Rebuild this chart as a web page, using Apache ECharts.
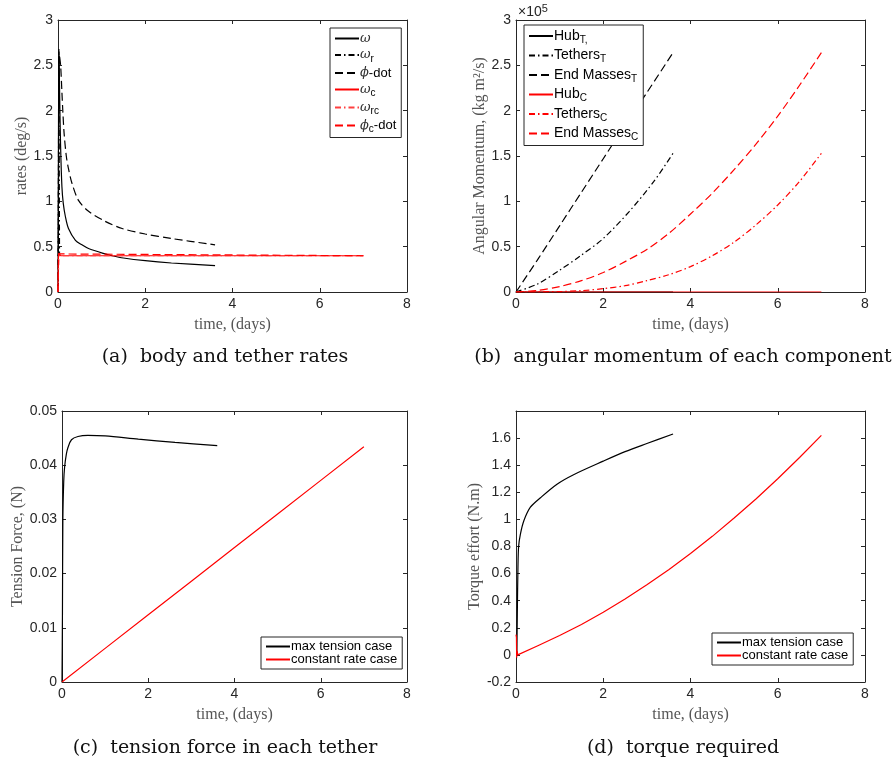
<!DOCTYPE html>
<html>
<head>
<meta charset="utf-8">
<script src="https://cdn.jsdelivr.net/npm/echarts@6/dist/echarts.min.js"></script>
<style>
  html, body { margin: 0; background: #fff; }
  #chart { width: 896px; height: 764px; }
</style>
</head>
<body>
<div id="chart"></div>
<script>
// (a) body and tether rates, deg/s vs days
const omega = [[0, 0], [0.01, 1.6], [0.022, 2.65], [0.04, 2.1], [0.06, 1.6], [0.09, 1.16], [0.12, 0.98], [0.17, 0.83], [0.24, 0.7], [0.4, 0.57], [0.55, 0.52], [0.7, 0.48], [1.08, 0.42], [1.24, 0.4], [1.5, 0.375], [2, 0.345], [2.6, 0.32], [3.6, 0.29]];
const omegaR = [[0, 0], [0.02, 2.68], [0.035, 0.4]];
const phiDot = [[0, 0], [0.015, 1.4], [0.03, 2.62], [0.06, 2.5], [0.09, 2.2], [0.11, 2.0], [0.14, 1.75], [0.19, 1.5], [0.24, 1.36], [0.32, 1.2], [0.47, 1.01], [0.7, 0.89], [1.08, 0.78], [1.47, 0.7], [2, 0.64], [2.6, 0.59], [3.6, 0.52]];
const omegaC = [[0, 0], [0.01, 0.38], [0.02, 0.43], [0.04, 0.41], [0.06, 0.4], [7, 0.4]];
const omegaRC = [[0, 0], [0.02, 0.4], [7, 0.4]];
const phiCDot = [[0, 0], [0.015, 0.42], [0.03, 0.4], [7, 0.4]];

// (b) angular momentum, x1e5 kg m^2/s
const hubT = [[0, 0], [3.6, 0]];
const tethersT = [[0, 0], [0.5, 0.09], [1, 0.24], [1.48, 0.4], [2, 0.59], [2.6, 0.89], [3.16, 1.22], [3.6, 1.53]];
const endMassesT = [[0, 0], [0.5, 0.36], [1, 0.73], [1.5, 1.1], [2, 1.47], [2.5, 1.84], [3, 2.2], [3.6, 2.64]];
const hubC = [[0, 0], [7, 0]];
const tethersC = [[0, 0], [1, 0.005], [1.5, 0.015], [2, 0.037], [2.5, 0.07], [3, 0.125], [3.5, 0.19], [4, 0.28], [4.5, 0.4], [5, 0.55], [5.5, 0.74], [6, 0.96], [6.5, 1.22], [7, 1.53]];
const endMassesC = [[0, 0], [0.5, 0.018], [1, 0.06], [1.5, 0.125], [2, 0.215], [2.5, 0.335], [3, 0.47], [3.5, 0.645], [4, 0.86], [4.5, 1.09], [5, 1.35], [5.5, 1.63], [6, 1.94], [6.5, 2.28], [7, 2.64]];

// (c) tension force, N
const tensionMax = [[0, 0], [0.01, 0.012], [0.02, 0.03], [0.04, 0.037], [0.06, 0.0396], [0.1, 0.042], [0.14, 0.0433], [0.22, 0.0447], [0.37, 0.0453], [0.6, 0.0455], [1, 0.0454], [1.77, 0.0448], [2.62, 0.0442], [3.6, 0.0436]];
const tensionConst = [[0, 0], [1, 0.0062], [2, 0.0124], [3, 0.0186], [4, 0.0248], [5, 0.031], [6, 0.0372], [7, 0.0434]];

// (d) torque effort, N.m
const torqueMax = [[0.02, 0], [0.03, 0.3], [0.045, 0.65], [0.06, 0.8], [0.1, 0.89], [0.18, 0.99], [0.33, 1.09], [0.56, 1.16], [0.94, 1.26], [1.32, 1.33], [2, 1.43], [2.5, 1.5], [3, 1.56], [3.6, 1.63]];
const torqueConst = [[0, 0.15], [0.01, 0.13], [0.015, -0.02], [0.025, 0.03], [0.04, 0], [0.08, 0.01], [0.5, 0.068], [1, 0.143], [1.5, 0.225], [2, 0.315], [2.5, 0.412], [3, 0.517], [3.5, 0.629], [4, 0.749], [4.5, 0.875], [5, 1.01], [5.5, 1.151], [6, 1.3], [6.5, 1.457], [7, 1.62]];

const captions = ['(a)  body and tether rates', '(b)  angular momentum of each component', '(c)  tension force in each tether', '(d)  torque required'];
const yNames = ['rates (deg/s)', 'Angular Momentum, (kg m²/s)', 'Tension Force, (N)', 'Torque effort (N.m)'];
const yRanges = [[0, 3, 0.5], [0, 3, 0.5], [0, 0.05, 0.01], [-0.2, 1.8, 0.2]];

const AX = '#262626';
const DASH = [8, 4];
const DASHDOT = [6, 3, 1.5, 3];

const grids = [
  { left: 58, top: 20, width: 349, height: 272 },
  { left: 516, top: 20, width: 349, height: 272 },
  { left: 62, top: 411, width: 345, height: 271 },
  { left: 516, top: 411, width: 349, height: 271 }
];
const yNameGaps = [26, 27, 36, 33];

const xAxes = [];
const yAxes = [];
grids.forEach((g, i) => {
  const tick = { inside: true, length: 4, lineStyle: { color: AX } };
  const line = { onZero: false, lineStyle: { color: AX, width: 1 } };
  xAxes.push({
    gridIndex: i, type: 'value', min: 0, max: 8, interval: 2,
    axisLine: line, axisTick: tick, splitLine: { show: false },
    axisLabel: { color: AX, fontSize: 14, fontFamily: 'Liberation Sans', margin: 5 },
    name: 'time, (days)', nameLocation: 'middle', nameGap: 25,
    nameTextStyle: { fontFamily: 'Liberation Serif', fontSize: 16, color: '#555' }
  });
  xAxes.push({
    gridIndex: i, type: 'value', min: 0, max: 8, interval: 2, position: 'top',
    axisLine: line, axisTick: tick, splitLine: { show: false }, axisLabel: { show: false }
  });
  const [ymin, ymax, yint] = yRanges[i];
  yAxes.push({
    gridIndex: i, type: 'value', min: ymin, max: ymax, interval: yint,
    axisLine: line, axisTick: tick, splitLine: { show: false },
    axisLabel: { color: AX, fontSize: 14, fontFamily: 'Liberation Sans', margin: 5, showMaxLabel: i !== 3 },
    name: yNames[i], nameLocation: 'middle', nameGap: yNameGaps[i],
    nameTextStyle: { fontFamily: 'Liberation Serif', fontSize: 16, color: '#555' }
  });
  yAxes.push({
    gridIndex: i, type: 'value', min: ymin, max: ymax, interval: yint, position: 'right',
    axisLine: line, axisTick: tick, splitLine: { show: false }, axisLabel: { show: false }
  });
});

function line(name, gi, data, color, type, smooth) {
  return {
    name, type: 'line', xAxisIndex: gi * 2, yAxisIndex: gi * 2, data,
    symbol: 'none', showSymbol: false,
    smooth: smooth === undefined ? 0.3 : smooth,
    color, lineStyle: { color, width: 1.2, type: type || 'solid' },
    silent: true
  };
}

const series = [
  line('ω', 0, omega, '#000'),
  line('ω_r', 0, omegaR, '#000', DASHDOT, false),
  line('ϕ-dot', 0, phiDot, '#000', DASH),
  line('ω_c', 0, omegaC, '#ff0000', 'solid', false),
  line('ω_rc', 0, omegaRC, '#ff4040', DASHDOT, false),
  line('ϕ_c-dot', 0, phiCDot, '#ff0000', DASH, false),

  line('Hub_T', 1, hubT, '#000', 'solid', false),
  line('Tethers_T', 1, tethersT, '#000', DASHDOT),
  line('End Masses_T', 1, endMassesT, '#000', DASH),
  line('Hub_C', 1, hubC, '#ff0000', 'solid', false),
  line('Tethers_C', 1, tethersC, '#ff0000', DASHDOT),
  line('End Masses_C', 1, endMassesC, '#ff0000', DASH),

  line('max tension case', 2, tensionMax, '#000'),
  line('constant rate case', 2, tensionConst, '#ff0000', 'solid', false),

  line('max tension case', 3, torqueMax, '#000'),
  line('constant rate case', 3, torqueConst, '#ff0000', 'solid', false)
];

const legendText = {
  'ω': '{it|ω}',
  'ω_r': '{it|ω}{sub|r}',
  'ϕ-dot': '{it|ϕ}-dot',
  'ω_c': '{it|ω}{sub|c}',
  'ω_rc': '{it|ω}{sub|rc}',
  'ϕ_c-dot': '{it|ϕ}{sub|c}-dot',
  'Hub_T': 'Hub{sub|T,}',
  'Tethers_T': 'Tethers{sub|T}',
  'End Masses_T': 'End Masses{sub|T}',
  'Hub_C': 'Hub{sub|C}',
  'Tethers_C': 'Tethers{sub|C}',
  'End Masses_C': 'End Masses{sub|C}'
};

const rich = {
  it: { fontStyle: 'italic', fontFamily: 'DejaVu Serif', fontSize: 13, color: '#333' },
  sub: { fontSize: 10, fontFamily: 'Liberation Sans', color: '#000', padding: [8, 0, 0, 0] }
};

function legend(names, left, top, gap, size, lh) {
  return {
    orient: 'vertical', left, top, data: names,
    itemWidth: 24, itemHeight: 10, itemGap: gap,
    itemStyle: { opacity: 0 },
    borderColor: AX, borderWidth: 1, padding: [3, 5, 3, 4],
    backgroundColor: '#fff',
    selectedMode: false,
    formatter: n => legendText[n] || n,
    textStyle: { fontFamily: 'Liberation Sans', fontSize: size, lineHeight: lh, color: '#000', padding: [0, 0, 0, -4], rich }
  };
}

const option = {
  animation: false,
  backgroundColor: '#fff',
  grid: grids,
  xAxis: xAxes,
  yAxis: yAxes,
  legend: [
    legend(['ω', 'ω_r', 'ϕ-dot', 'ω_c', 'ω_rc', 'ϕ_c-dot'], 330, 28, 1.5, 13, 15),
    legend(['Hub_T', 'Tethers_T', 'End Masses_T', 'Hub_C', 'Tethers_C', 'End Masses_C'], 524, 25, 2.5, 14, 16),
    legend(['max tension case', 'constant rate case'], 261, 637, 0, 13, 13),
    legend(['max tension case', 'constant rate case'], 712, 633, 0, 13, 13)
  ],
  series,
  graphic: [
    {
      type: 'text', left: 518, top: 3,
      style: { text: '×10{sup|5}', font: '14px "Liberation Sans"', fill: AX,
        rich: { sup: { fontSize: 11, fontFamily: 'Liberation Sans', fill: AX, padding: [0, 0, 8, 0] } } }
    },
    ...captions.map((c, i) => ({
      type: 'text',
      x: i % 2 === 0 ? 225 : 683,
      y: i < 2 ? 357 : 748,
      style: { text: c, font: '19px "DejaVu Serif"', fill: '#111', align: 'center', verticalAlign: 'middle' }
    }))
  ]
};

const chart = echarts.init(document.getElementById('chart'));
chart.setOption(option);
</script>
</body>
</html>
